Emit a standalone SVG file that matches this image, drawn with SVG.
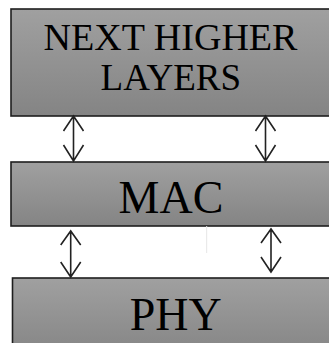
<svg xmlns="http://www.w3.org/2000/svg" width="329" height="343" viewBox="0 0 329 343">
<defs>
<linearGradient id="g" x1="0" y1="0" x2="0" y2="1">
<stop offset="0" stop-color="#a0a0a0"/>
<stop offset="1" stop-color="#848484"/>
</linearGradient>
<style>
.box{fill:url(#g);stroke:#1e1e1e;stroke-width:1.6}
.t{font-family:"Liberation Serif","Times New Roman",serif;fill:#000;text-anchor:middle}
.c{stroke:#222;stroke-width:1.6;fill:none}
</style>
</defs>
<rect width="329" height="343" fill="#fff"/>
<g id="next-higher-layers">
<rect class="box" x="11" y="9" width="330" height="107"/>
<text class="t" x="170.5" y="50" font-size="37" textLength="254" lengthAdjust="spacingAndGlyphs">NEXT HIGHER</text>
<text class="t" x="170.8" y="90" font-size="37">LAYERS</text>
</g>
<g id="mac">
<rect class="box" x="11" y="162" width="330" height="64"/>
<text class="t" x="171" y="213" font-size="46">MAC</text>
</g>
<g id="phy">
<rect class="box" x="12.5" y="278" width="330" height="80"/>
<text class="t" x="175.8" y="330" font-size="46">PHY</text>
</g>
<g id="connectors">
<path class="c" d="M73.5 116V161M63.5 131L73.5 116L83.5 131M63.5 145L73.5 161L83.5 145"/>
<path class="c" d="M265.5 116V161M255.5 131L265.5 116L275.5 131M255.5 145L265.5 161L275.5 145"/>
<path class="c" d="M70.7 231V277M60.7 245L70.7 231L80.7 245M60.7 262L70.7 277L80.7 262"/>
<path class="c" d="M271 229V272M261 243L271 229L281 243M261 257L271 272L281 257"/>
</g>
<line x1="206.7" y1="226" x2="206.7" y2="253" stroke="#e6e6e6" stroke-width="1"/>
</svg>
